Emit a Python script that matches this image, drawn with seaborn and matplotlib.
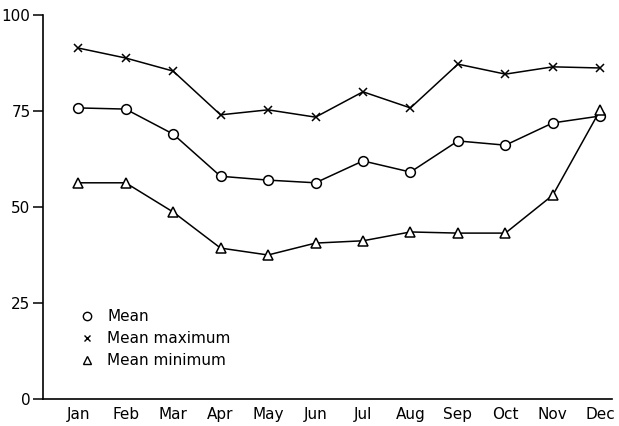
import matplotlib
matplotlib.use("Agg")
import matplotlib.pyplot as plt
from matplotlib.lines import Line2D
import pandas as pd
import seaborn as sns

# Monthly values
months = ["Jan", "Feb", "Mar", "Apr", "May", "Jun",
          "Jul", "Aug", "Sep", "Oct", "Nov", "Dec"]
mean_vals = [75.8, 75.5, 69.0, 58.0, 57.0, 56.3, 62.0, 59.1, 67.2, 66.1, 71.9, 73.7]
mean_max = [91.4, 88.8, 85.4, 74.0, 75.3, 73.4, 80.0, 75.8, 87.2, 84.6, 86.5, 86.2]
mean_min = [56.3, 56.3, 48.7, 39.3, 37.5, 40.6, 41.2, 43.5, 43.2, 43.2, 53.1, 75.3]

series_names = ["Mean", "Mean maximum", "Mean minimum"]
series_values = [mean_vals, mean_max, mean_min]
series_markers = ["o", "x", "^"]

sns.set_style("ticks")
plt.rcParams["font.family"] = ["DejaVu Sans"]
plt.rcParams["text.color"] = "black"
plt.rcParams["xtick.color"] = "black"
plt.rcParams["ytick.color"] = "black"
plt.rcParams["axes.edgecolor"] = "black"

fig = plt.figure(figsize=(6.19, 4.26), dpi=100)
ax = fig.add_axes([0.0695, 0.0634, 0.9195, 0.9014])

for name, vals, mk in zip(series_names, series_values, series_markers):
    df = pd.DataFrame({"pos": range(len(months)), "value": vals})
    sns.lineplot(
        data=df, x="pos", y="value", ax=ax,
        color="black", linewidth=1.1,
        marker=mk, markersize=7 if mk != "x" else 6,
        markerfacecolor="white", markeredgecolor="black",
        markeredgewidth=1.1, zorder=3,
    )

ax.set_xlim(-0.74, 11.25)
ax.set_ylim(0, 100)
ax.set_xticks(range(len(months)))
ax.set_xticklabels(months)
ax.set_yticks([0, 25, 50, 75, 100])
ax.set_xlabel("")
ax.set_ylabel("")
ax.tick_params(axis="x", length=0, pad=6, labelsize=11, labelcolor="black")
ax.tick_params(axis="y", length=7, width=1.1, pad=2, labelsize=11, labelcolor="black")
for side in ["top", "right"]:
    ax.spines[side].set_visible(False)
for side in ["left", "bottom"]:
    ax.spines[side].set_linewidth(1.2)

handles = [
    Line2D([], [], linestyle="none", marker=mk, color="black",
           markerfacecolor="white", markersize=6 if mk != "x" else 5,
           markeredgewidth=1.0)
    for mk in series_markers
]
leg = ax.legend(handles, series_names, loc="lower left",
                bbox_to_anchor=(0.04, 0.045), frameon=False,
                fontsize=11, handlelength=1.0, handletextpad=0.8,
                labelspacing=0.45)
for t in leg.get_texts():
    t.set_color("black")

fig.savefig("out.png", dpi=100)
